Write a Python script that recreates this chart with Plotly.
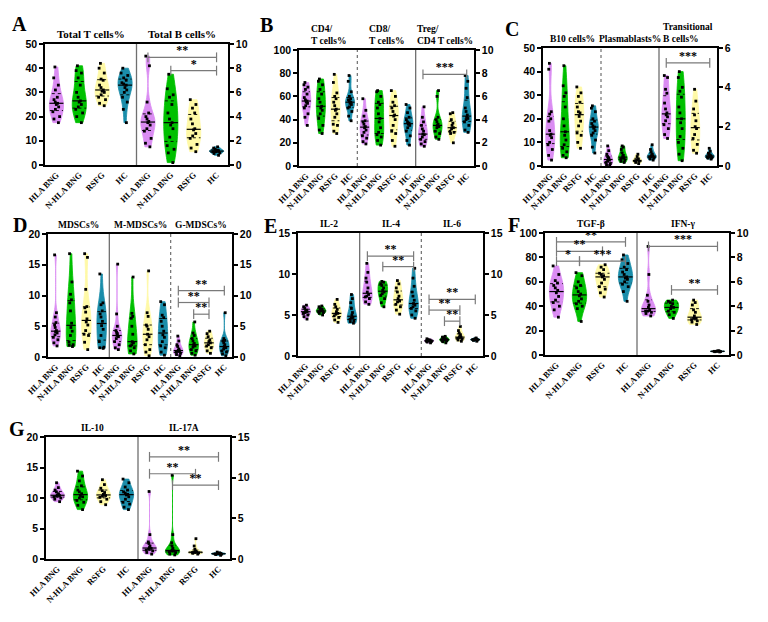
import numpy as np
import plotly.graph_objects as go

GROUPS = ["HLA BNG", "N-HLA BNG", "RSFG", "HC"]
COLORS = ["#DA8CF2", "#00C000", "#FFF9A6", "#1A8DAA"]

# ---------------- Panel A ----------------
A_total_T = [
    [17.5, 19, 20, 22, 23, 24, 25, 25.5, 26, 27, 28, 31, 33, 36, 40.5],
    [17.5, 20, 21.5, 23, 24, 25, 26, 26.5, 28, 30, 33, 36, 38, 39, 41],
    [24.5, 25.5, 27, 28, 29, 30, 30.5, 31, 32, 33, 35, 35.5, 38, 40, 42],
    [17.5, 23, 26, 28, 30, 31, 32, 33, 33.5, 34, 35, 36, 37, 38, 40]]
A_total_B = [
    [1.5, 1.8, 2.2, 2.8, 3.0, 3.3, 3.5, 3.6, 3.8, 4.0, 4.3, 5.2, 8.2, 9.0],
    [0.2, 1.0, 1.3, 1.6, 2.3, 3.0, 3.3, 3.5, 3.8, 4.3, 5.0, 5.6, 5.8, 6.3, 7.5],
    [1.1, 1.4, 1.7, 2.2, 2.4, 2.6, 2.9, 3.0, 3.4, 3.8, 4.3, 4.7, 5.0, 5.4],
    [0.8, 0.95, 1.0, 1.1, 1.1, 1.15, 1.2, 1.2, 1.3, 1.4, 1.5]]
A_sig = [(4, 7, 8.9, "**", "R"), (5, 7, 7.8, "*", "R")]

# ---------------- Panel B ----------------
B_CD4 = [
    [35, 42, 45, 50, 52, 54, 55, 56, 57, 59, 62, 66, 68, 70, 72],
    [28, 31, 35, 41, 45, 48, 50, 51.5, 55, 58, 62, 66, 70, 73, 75],
    [28, 30, 35, 36, 42, 45, 48, 49, 52, 55, 58, 60, 63, 72, 79],
    [39, 43, 47, 50, 51, 53, 54, 55, 56, 57, 58, 60, 64, 73, 78]]
B_CD8 = [
    [19, 21, 24, 26, 29, 31, 33, 34, 36, 38, 39, 43, 48, 58],
    [18, 22, 25, 27, 29, 33, 38, 41, 45, 50, 53, 55, 60, 64, 65],
    [17, 22, 28, 30, 35, 40, 43, 44, 47, 50, 52, 55, 60, 65],
    [18, 22, 26, 30, 33, 35, 36, 37, 38, 40, 42, 46, 50, 53]]
B_Treg = [
    [1.7, 1.9, 2.1, 2.3, 2.5, 2.7, 2.75, 3.0, 3.2, 3.5, 3.8, 4.2, 5.1],
    [2.3, 2.5, 2.8, 3.0, 3.3, 3.4, 3.5, 3.6, 3.8, 4.0, 4.2, 6.0, 6.5],
    [2.0, 2.8, 2.9, 3.0, 3.2, 3.3, 3.5, 3.7, 4.0, 4.5, 4.6],
    [2.9, 3.1, 3.5, 3.8, 4.0, 4.1, 4.2, 4.4, 4.7, 5.0, 5.9, 6.7, 7.3, 7.8]]
B_sig = [(8, 11, 7.9, "***", "R")]

# ---------------- Panel C ----------------
C_B10 = [
    [2.5, 4.5, 7, 9, 10, 12, 13, 13.5, 15, 19, 20, 22, 23, 41, 43.5],
    [3.5, 4.5, 6, 7.5, 9, 11, 13, 14.5, 17, 20, 25, 29.5, 31, 34, 42.5],
    [7.5, 10, 13, 14, 17, 19, 21, 22.5, 23, 25, 27, 29.5, 31, 33.5],
    [5.5, 8, 11, 13, 14, 15, 16, 16.5, 17, 18, 19, 20, 23, 24.5, 25.5]]
C_Plasma = [
    [0.2, 0.5, 1, 1.5, 2, 2.5, 3, 3.5, 4, 5, 6.5, 8.5],
    [1.5, 2, 2.5, 3, 3.3, 3.5, 4, 4.5, 5.5, 7, 8, 8.5],
    [1.0, 1.5, 2, 2.2, 2.5, 3, 4, 5],
    [2.5, 3, 3.5, 3.8, 4, 4.2, 4.5, 5, 6, 7, 9]]
C_Trans = [
    [1.4, 1.6, 1.9, 2.1, 2.3, 2.5, 2.6, 2.7, 2.9, 3.2, 3.7, 3.9, 4.5, 4.6],
    [0.27, 0.6, 0.9, 1.2, 1.5, 1.9, 2.2, 2.4, 2.7, 3.0, 3.5, 3.8, 4.0, 4.5, 4.8],
    [0.65, 0.8, 1.1, 1.4, 1.6, 1.9, 2.0, 2.3, 2.6, 2.9, 3.3, 3.9],
    [0.35, 0.4, 0.42, 0.45, 0.48, 0.5, 0.52, 0.55, 0.6, 0.65, 0.75, 0.9]]
C_sig = [(8, 11, 5.24, "***", "R")]

# ---------------- Panel D ----------------
D_MDSC = [
    [1.8, 2.3, 2.8, 3.2, 3.6, 3.9, 4.1, 4.3, 4.8, 5.2, 5.6, 6.5, 7.2, 16.6],
    [1.7, 1.9, 2.0, 2.4, 3.5, 4.2, 4.8, 5.5, 7.5, 8.8, 9.3, 10.2, 12.2, 16.8],
    [1.2, 2.4, 3.5, 3.7, 4.3, 5.2, 5.7, 6.2, 7.3, 8.0, 8.2, 11.0, 16.2, 16.8],
    [1.4, 1.5, 1.6, 2.5, 3.5, 4.5, 5.1, 5.8, 6.5, 7.0, 7.5, 8.5, 8.8, 13.5]]
D_M_MDSC = [
    [1.2, 1.5, 2.0, 2.5, 3.0, 3.3, 3.5, 3.8, 4.0, 4.3, 5.0, 7.0, 15.1],
    [0.5, 1.0, 1.5, 1.8, 2.0, 2.3, 2.5, 3.7, 5.0, 6.3, 6.6, 7.1, 13.0],
    [0.2, 0.8, 1.2, 2.0, 2.8, 3.3, 3.7, 4.5, 5.0, 5.2, 6.6, 7.2, 14.0],
    [0.3, 0.8, 1.5, 1.8, 2.5, 3.2, 3.6, 4.2, 5.0, 5.8, 6.4, 6.8, 8.5, 9.0]]
D_G_MDSC = [
    [0.2, 0.4, 0.6, 0.8, 0.9, 1.0, 1.1, 1.3, 1.7, 2.0, 2.6, 3.4],
    [0.3, 0.6, 1.0, 1.2, 1.6, 1.8, 2.0, 2.2, 2.6, 3.0, 3.5, 3.9, 5.7],
    [0.6, 1.0, 1.5, 1.8, 2.0, 2.3, 2.5, 2.8, 3.3, 3.8, 4.2],
    [0.2, 0.5, 0.8, 1.0, 1.3, 1.5, 1.7, 2.0, 2.3, 2.6, 2.7, 3.0, 7.2]]
D_sig = [(8, 11, 10.8, "**", "R"), (8, 10, 8.86, "**", "R"), (9, 10, 6.96, "**", "R")]

# ---------------- Panel E ----------------
E_IL2 = [
    [4.5, 4.8, 5.0, 5.2, 5.3, 5.4, 5.5, 5.6, 5.8, 6.0, 6.2],
    [5.0, 5.2, 5.3, 5.4, 5.5, 5.5, 5.6, 5.7, 5.8, 6.0, 6.1],
    [4.1, 4.4, 4.7, 4.9, 5.1, 5.2, 5.4, 5.7, 6.0, 6.3, 6.9],
    [4.0, 4.2, 4.3, 4.5, 4.6, 4.7, 5.0, 5.3, 5.8, 6.5, 7.0, 7.5]]
E_IL4 = [
    [6.3, 6.6, 7.0, 7.2, 7.3, 7.5, 7.8, 8.3, 9.0, 9.5, 10.2, 11.3],
    [6.0, 6.5, 7.0, 7.4, 7.6, 7.8, 8.0, 8.3, 8.6, 8.8, 9.0, 9.1],
    [5.1, 5.6, 6.0, 6.3, 6.6, 6.7, 7.0, 7.3, 7.8, 8.3, 8.8, 9.2],
    [4.6, 5.0, 5.5, 5.8, 6.0, 6.2, 6.4, 6.8, 7.3, 7.8, 8.5, 9.5, 10.7]]
E_IL6 = [
    [1.6, 1.7, 1.75, 1.8, 1.85, 1.85, 1.9, 1.95, 2.0, 2.1],
    [1.6, 1.75, 1.85, 1.9, 1.95, 2.0, 2.05, 2.1, 2.2, 2.3, 2.4],
    [1.8, 1.95, 2.05, 2.15, 2.25, 2.3, 2.4, 2.6, 2.8, 3.1, 3.6],
    [1.8, 1.9, 1.95, 2.0, 2.0, 2.05, 2.1, 2.2]]
E_sig = [(4, 7, 12.18, "**", "L"), (5, 7, 10.9, "**", "L"),
         (8, 11, 6.9, "**", "R"), (8, 10, 5.6, "**", "R"), (9, 10, 4.25, "**", "R")]

# ---------------- Panel F ----------------
F_TGF = [
    [31, 37, 40, 43, 45, 48, 51, 53, 55, 57, 59, 61, 66, 73],
    [27.5, 38, 40, 42, 44, 46, 48.5, 50, 52, 55, 57, 60, 65, 67.5],
    [47.5, 51, 54, 56, 59, 62, 64, 65, 66, 67, 70, 72, 74],
    [44, 52, 56, 58, 60, 62, 63, 64, 66, 68, 70, 72, 75, 78, 82]]
F_IFN = [
    [3.2, 3.4, 3.5, 3.6, 3.6, 3.7, 3.9, 4.1, 4.4, 4.9, 6.6, 8.9],
    [3.0, 3.3, 3.5, 3.6, 3.8, 3.9, 4.0, 4.2, 4.3, 4.4, 4.5],
    [2.5, 2.7, 2.8, 2.9, 3.0, 3.0, 3.2, 3.5, 3.7, 4.1, 4.3, 4.5],
    [0.25, 0.27, 0.28, 0.3, 0.3, 0.31, 0.33, 0.35]]
F_sig = [(0, 3, 92.7, "**", "L"), (0, 2, 85, "**", "L"), (0, 1, 76.9, "*", "L"),
         (1, 3, 76.9, "***", "L"), (4, 7, 8.9, "***", "R"), (5, 7, 5.33, "**", "R")]

# ---------------- Panel G ----------------
G_IL10 = [
    [9.4, 9.8, 10.0, 10.2, 10.3, 10.4, 10.5, 10.7, 11.0, 11.3, 11.7, 12.5],
    [8.1, 8.8, 9.3, 9.6, 10.0, 10.2, 10.4, 10.7, 11.0, 11.3, 12.0, 12.8, 13.6, 14.4],
    [8.9, 9.4, 9.8, 10.1, 10.3, 10.4, 10.6, 10.9, 11.2, 11.6, 12.2, 13.0],
    [8.1, 8.5, 9.0, 9.3, 9.8, 10.2, 10.5, 10.6, 10.8, 11.0, 11.3, 11.8, 12.5, 13.1]]
G_IL17A = [
    [0.6, 0.8, 1.0, 1.1, 1.2, 1.3, 1.4, 1.6, 1.9, 2.1, 3.0, 8.3],
    [0.5, 0.6, 0.8, 0.9, 1.0, 1.0, 1.1, 1.3, 1.6, 2.0, 3.0, 10.3],
    [0.6, 0.7, 0.75, 0.8, 0.8, 0.85, 0.9, 1.0, 1.2, 1.6, 2.5],
    [0.45, 0.55, 0.6, 0.62, 0.65, 0.68, 0.7, 0.75, 0.85]]
G_sig = [(4, 7, 12.56, "**", "R"), (4, 6, 10.48, "**", "R"), (5, 7, 9.09, "**", "R")]

# ---------------- layout config (pixels) ----------------
PANELS = [
    dict(letter="A", lpos=(19, 24), box=(45, 44, 228, 165), left=(50, 10), right=(10, 2),
         segs=[("Total T cells%", A_total_T, "L"), ("Total B cells%", A_total_B, "R")],
         div=["solid"], sig=A_sig, tsize=11),
    dict(letter="B", lpos=(266, 25), box=(299, 50, 474, 166), left=(100, 20), right=(10, 2),
         segs=[("CD4/<br>T cells%", B_CD4, "L"), ("CD8/<br>T cells%", B_CD8, "L"),
               ("Treg/<br>CD4 T cells%", B_Treg, "R")],
         div=["dot", "solid"], sig=B_sig, tsize=9.5),
    dict(letter="C", lpos=(512, 29), box=(543, 48, 717, 166), left=(50, 10), right=(6, 2),
         segs=[("B10 cells%", C_B10, "L"), ("Plasmablasts%", C_Plasma, "L"),
               ("Transitional<br>B cells%", C_Trans, "R")],
         div=["dot", "solid"], sig=C_sig, tsize=9.5),
    dict(letter="D", lpos=(20, 225), box=(48, 234, 232, 357), left=(20, 5), right=(20, 5),
         segs=[("MDSCs%", D_MDSC, "L"), ("M-MDSCs%", D_M_MDSC, "L"), ("G-MDSCs%", D_G_MDSC, "R")],
         div=["solid", "dot"], sig=D_sig, tsize=9.5),
    dict(letter="E", lpos=(270, 226), box=(298, 233, 483, 356), left=(15, 5), right=(15, 5),
         segs=[("IL-2", E_IL2, "L"), ("IL-4", E_IL4, "L"), ("IL-6", E_IL6, "R")],
         div=["solid", "dot"], sig=E_sig, tsize=9.5),
    dict(letter="F", lpos=(514, 225), box=(545, 233, 729, 355), left=(100, 20), right=(10, 2),
         segs=[("TGF-β", F_TGF, "L"), ("IFN-γ", F_IFN, "R")],
         div=["solid"], sig=F_sig, tsize=9.5),
    dict(letter="G", lpos=(17, 429), box=(46, 437, 230, 559), left=(20, 5), right=(15, 5),
         segs=[("IL-10", G_IL10, "L"), ("IL-17A", G_IL17A, "R")],
         div=["solid"], sig=G_sig, tsize=9.5),
]

W, H = 768, 622
VW = 0.62
SERIF = "Liberation Serif"
SANS = "Liberation Sans"


def fx(px):
    return px / W


def fy(py):
    return 1 - py / H


def nm(base, i):
    return base if i == 1 else f"{base}{i}"


def halfwidths(vals, ys):
    v = np.asarray(vals, float)
    n = len(v)
    span = v.max() - v.min()
    sd = v.std(ddof=1)
    q1, q3 = np.percentile(v, [25, 75])
    a = min(sd, (q3 - q1) / 1.349)
    bw = max(1.059 * a * n ** -0.2, span / 100)
    grid = np.linspace(v.min(), v.max(), 300)
    dens = lambda y: np.exp(-0.5 * ((np.atleast_1d(y)[None, :] - v[:, None]) / bw) ** 2).sum(0)
    mx = dens(grid).max()
    return VW / 2 * dens(ys) / mx


fig = go.Figure()
layout = dict(template="none", width=W, height=H, margin=dict(l=0, r=0, t=0, b=0, pad=0),
              paper_bgcolor="white", plot_bgcolor="white", showlegend=False,
              font=dict(family=SANS, color="black"),
              violinmode="overlay", shapes=[], annotations=[])

for p, P in enumerate(PANELS, start=1):
    x0, y0, x1, y1 = P["box"]
    nseg = len(P["segs"])
    N = 4 * nseg
    xr = nm("x", p)
    yl = nm("y", 2 * p - 1)
    yrt = nm("y", 2 * p)
    layout[nm("xaxis", p)] = dict(
        domain=[fx(x0), fx(x1)], range=[-0.5, N - 0.5], anchor=yl, automargin=False,
        tickvals=list(range(N)), ticktext=GROUPS * nseg, tickangle=-45,
        tickfont=dict(family=SERIF, size=8.5, color="black", weight="bold"),
        showline=True, linecolor="black", linewidth=1.5, mirror=True,
        ticks="", showgrid=False, zeroline=False, fixedrange=True)
    layout[nm("yaxis", 2 * p - 1)] = dict(
        domain=[fy(y1), fy(y0)], range=[0, P["left"][0]], dtick=P["left"][1], anchor=xr,
        automargin=False, showline=True, linecolor="black", linewidth=1.5, ticks="outside",
        ticklen=4, tickwidth=1.5, tickcolor="black", showgrid=False, zeroline=False,
        tickfont=dict(family=SANS, size=10.5, color="black", weight="bold"))
    layout[nm("yaxis", 2 * p)] = dict(
        overlaying=yl, side="right", range=[0, P["right"][0]], dtick=P["right"][1], anchor=xr,
        automargin=False, showline=True, linecolor="black", linewidth=1.5, ticks="outside",
        ticklen=4, tickwidth=1.5, tickcolor="black", showgrid=False, zeroline=False,
        tickfont=dict(family=SANS, size=10.5, color="black", weight="bold"))

    med_x, med_y, q_x, q_y = {}, {}, {}, {}
    for k, (title, data, side) in enumerate(P["segs"]):
        ya = yl if side == "L" else yrt
        for g, vals in enumerate(data):
            pos = 4 * k + g
            fig.add_trace(go.Violin(
                x=[pos] * len(vals), y=vals, xaxis=xr, yaxis=ya,
                fillcolor=COLORS[g], line=dict(color=COLORS[g], width=0.8), opacity=1,
                width=VW, spanmode="hard", points="all", pointpos=0, jitter=0.6,
                marker=dict(size=2.8, color="black", symbol="square"),
                box_visible=False, meanline_visible=False, hoverinfo="skip",
                scalemode="width", showlegend=False))
            med = float(np.median(vals))
            q1, q3 = np.percentile(vals, [25, 75])
            hw = halfwidths(vals, [med, q1, q3])
            med_x.setdefault(ya, []).extend([pos - hw[0], pos + hw[0], None])
            med_y.setdefault(ya, []).extend([med, med, None])
            for qv, h in ((q1, hw[1]), (q3, hw[2])):
                q_x.setdefault(ya, []).extend([pos - h, pos + h, None])
                q_y.setdefault(ya, []).extend([qv, qv, None])
        # segment title
        cx = x0 + (x1 - x0) * (4 * k + 2) / N
        layout["annotations"].append(dict(
            xref="paper", yref="paper", x=fx(cx), y=fy(y0 - 2), xanchor="center",
            yanchor="bottom", align="left", showarrow=False, text=f"<b>{title}</b>",
            font=dict(family=SERIF, size=P["tsize"], color="black")))
    for ya in med_x:
        fig.add_trace(go.Scatter(x=med_x[ya], y=med_y[ya], xaxis=xr, yaxis=ya, mode="lines",
                                 line=dict(color="black", width=1.2), hoverinfo="skip"))
        fig.add_trace(go.Scatter(x=q_x[ya], y=q_y[ya], xaxis=xr, yaxis=ya, mode="lines",
                                 line=dict(color="black", width=0.9, dash="dot"), hoverinfo="skip"))
    # dividers
    for d, style in enumerate(P["div"]):
        layout["shapes"].append(dict(
            type="line", xref=xr, yref=f"{yl} domain", x0=4 * d + 3.5, x1=4 * d + 3.5, y0=0, y1=1,
            line=dict(color="#6f6f6f", width=1.3 if style == "solid" else 1.2,
                      dash="solid" if style == "solid" else "dot")))
    # significance brackets
    for (i, j, h, lab, side) in P["sig"]:
        ya = yl if side == "L" else yrt
        fig.add_trace(go.Scatter(
            x=[i, j], y=[h, h], xaxis=xr, yaxis=ya, mode="lines+markers",
            line=dict(color="#7a7a7a", width=1.2),
            marker=dict(symbol="line-ns", size=7, color="#7a7a7a",
                        line=dict(color="#7a7a7a", width=1.2)),
            hoverinfo="skip"))
        fig.add_trace(go.Scatter(
            x=[(i + j) / 2], y=[h], xaxis=xr, yaxis=ya, mode="text", text=[lab],
            textposition="top center",
            textfont=dict(family=SERIF, size=12, color="black", weight="bold"),
            hoverinfo="skip"))
    # panel letter
    lx, ly = P["lpos"]
    layout["annotations"].append(dict(
        xref="paper", yref="paper", x=fx(lx), y=fy(ly), xanchor="center", yanchor="middle",
        showarrow=False, text=f"<b>{P['letter']}</b>",
        font=dict(family=SERIF, size=20, color="black")))

fig.update_layout(**layout)
fig.write_html("out.html")
